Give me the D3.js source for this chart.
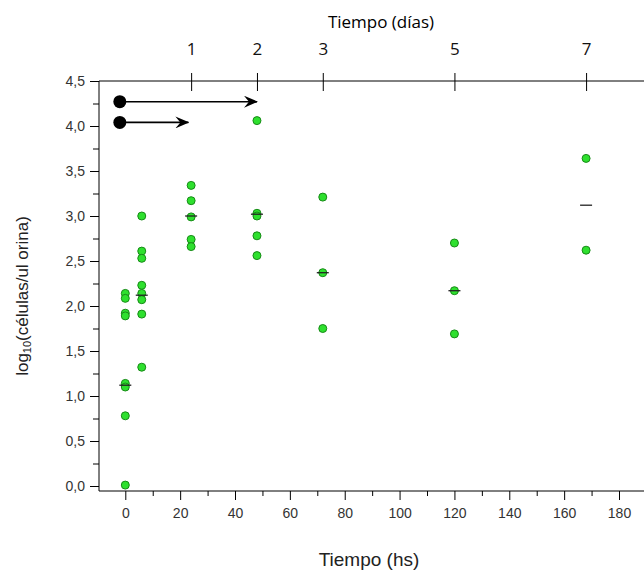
<!DOCTYPE html>
<meta charset="utf-8">
<style>
    body { margin: 0; background: #fff; }
    .tick text { font-family: "Liberation Sans", Arial, sans-serif; font-size: 14px; fill: #333; }
    .topaxis .tick text { font-family: "Open Sans", sans-serif; font-size: 17px; fill: #111; }
    .axis line { stroke: #000; }
</style>
<body>
<div id="plotarea"></div>
<script src="https://cdn.jsdelivr.net/npm/d3@7"></script>
<script>

    // muestras por tiempo (horas) -> log10(celulas/ul orina)
    var hours = [0, 6, 24, 48, 72, 120, 168];
    var values = [
        [2.14, 2.085, 1.92, 1.89, 1.14, 1.10, 0.78, 0.01],
        [3.0, 2.61, 2.53, 2.23, 2.14, 2.07, 1.91, 1.32],
        [3.34, 3.17, 2.99, 2.74, 2.66],
        [4.06, 3.03, 3.0, 2.78, 2.56],
        [3.21, 2.37, 1.75],
        [2.70, 2.17, 1.69],
        [3.64, 2.62]
    ];
    var means = [1.12, 2.12, 3.0, 3.02, 2.37, 2.17, 3.12];
    var dayTicks = [1, 2, 3, 5, 7];
    var hourTicks = [0, 20, 40, 60, 80, 100, 120, 140, 160, 180];
    var yTicks = [0, 0.5, 1, 1.5, 2, 2.5, 3, 3.5, 4, 4.5];
    // flechas: desde / hasta (horas), altura
    var arrows = [
        {from: -2, to: 48, y: 4.27},
        {from: -2, to: 23, y: 4.04}
    ];

    var width = 644, height = 573;
    var plotLeft = 99, plotBottom = 491, plotTop = 81;

    var svg = d3.select("#plotarea").append("svg")
            .attr("width", width)
            .attr("height", height);

    var x = d3.scaleLinear().domain([0, 180]).range([125.3, 619]);
    var xDay = d3.scaleLinear().domain([0, 7]).range([x(0), x(168)]);
    var y = d3.scaleLinear().domain([0, 4.5]).range([486, 81]);

    var comma = function(d) { return d3.format(".1f")(d).replace(".", ","); };

    // eje y
    var minorY = d3.range(0.25, 4.5, 0.5);
    svg.append("g").attr("class", "axis")
            .attr("transform", "translate(" + plotLeft + ",0)")
            .call(d3.axisLeft(y).tickValues(minorY).tickSize(6).tickFormat(""))
            .select(".domain").remove();
    svg.append("g").attr("class", "axis")
            .attr("transform", "translate(" + plotLeft + ",0)")
            .call(d3.axisLeft(y).tickValues(yTicks).tickSize(9).tickPadding(5).tickFormat(comma))
            .select(".domain").remove();

    // eje x (horas)
    var minorX = d3.range(10, 181, 20);
    svg.append("g").attr("class", "axis")
            .attr("transform", "translate(0," + plotBottom + ")")
            .call(d3.axisBottom(x).tickValues(minorX).tickSize(5).tickFormat(""))
            .select(".domain").remove();
    svg.append("g").attr("class", "axis")
            .attr("transform", "translate(0," + plotBottom + ")")
            .call(d3.axisBottom(x).tickValues(hourTicks).tickSize(9).tickPadding(8))
            .select(".domain").remove();

    // eje superior (dias)
    var topAxis = svg.append("g").attr("class", "axis topaxis")
            .attr("transform", "translate(0," + plotTop + ")")
            .call(d3.axisTop(xDay).tickValues(dayTicks).tickSize(8).tickPadding(18).tickFormat(d3.format("d")));
    topAxis.select(".domain").remove();
    topAxis.selectAll(".tick line").attr("y1", 10).attr("y2", -8);

    svg.append("line").attr("x1", plotLeft).attr("x2", width).attr("y1", plotTop).attr("y2", plotTop).attr("stroke", "#000");
    svg.append("line").attr("x1", plotLeft).attr("x2", width).attr("y1", plotBottom).attr("y2", plotBottom).attr("stroke", "#000");
    svg.append("line").attr("x1", plotLeft).attr("x2", plotLeft).attr("y1", plotTop).attr("y2", plotBottom).attr("stroke", "#000");

    // titulos
    svg.append("text")
            .attr("x", 381).attr("y", 28)
            .attr("text-anchor", "middle")
            .style("font-family", "Open Sans, sans-serif")
            .style("font-size", "17px")
            .text("Tiempo (días)");

    svg.append("text")
            .attr("x", 369).attr("y", 566)
            .attr("text-anchor", "middle")
            .style("font-family", "Liberation Sans, Arial, sans-serif")
            .style("font-size", "19px")
            .style("fill", "#222")
            .text("Tiempo (hs)");

    var yt = svg.append("text")
            .attr("transform", "translate(28,296) rotate(-90)")
            .attr("text-anchor", "middle")
            .style("font-family", "Liberation Sans, Arial, sans-serif")
            .style("font-size", "17px")
            .style("fill", "#222");
    yt.append("tspan").text("log");
    yt.append("tspan").attr("dy", 3).style("font-size", "11px").text("10");
    yt.append("tspan").attr("dy", -3).text("(células/ul orina)");

    // puntos
    var pts = [];
    hours.forEach(function(h, i) {
        values[i].forEach(function(v) { pts.push({h: h, v: v}); });
    });

    svg.selectAll(".pt")
            .data(pts)
            .enter().append("circle")
            .attr("class", "pt")
            .attr("cx", function(p) { return x(p.h); })
            .attr("cy", function(p) { return y(p.v); })
            .attr("r", 4)
            .style("fill", "#2ee02e")
            .style("stroke", "#178a17")
            .style("stroke-width", 1);

    svg.selectAll(".mean")
            .data(means)
            .enter().append("line")
            .attr("class", "mean")
            .attr("x1", function(m, i) { return x(hours[i]) - 6; })
            .attr("x2", function(m, i) { return x(hours[i]) + 6; })
            .attr("y1", function(m) { return y(m); })
            .attr("y2", function(m) { return y(m); })
            .attr("stroke", "#222")
            .attr("stroke-width", 1.3);

    // flechas
    svg.append("defs").append("marker")
            .attr("id", "head")
            .attr("viewBox", "0 0 14 12")
            .attr("refX", 13).attr("refY", 6)
            .attr("markerWidth", 14).attr("markerHeight", 12)
            .attr("markerUnits", "userSpaceOnUse")
            .attr("orient", "auto")
            .append("path")
            .attr("d", "M0,0 L14,6 L0,12 L5,6 Z")
            .attr("fill", "#000");

    var ar = svg.selectAll(".arrow")
            .data(arrows)
            .enter().append("g")
            .attr("class", "arrow");
    ar.append("line")
            .attr("x1", function(a) { return x(a.from); })
            .attr("x2", function(a) { return x(a.to); })
            .attr("y1", function(a) { return y(a.y); })
            .attr("y2", function(a) { return y(a.y); })
            .attr("stroke", "#000")
            .attr("stroke-width", 1.6)
            .attr("marker-end", "url(#head)");
    ar.append("circle")
            .attr("cx", function(a) { return x(a.from); })
            .attr("cy", function(a) { return y(a.y); })
            .attr("r", 6.5)
            .attr("fill", "#000");

</script>
